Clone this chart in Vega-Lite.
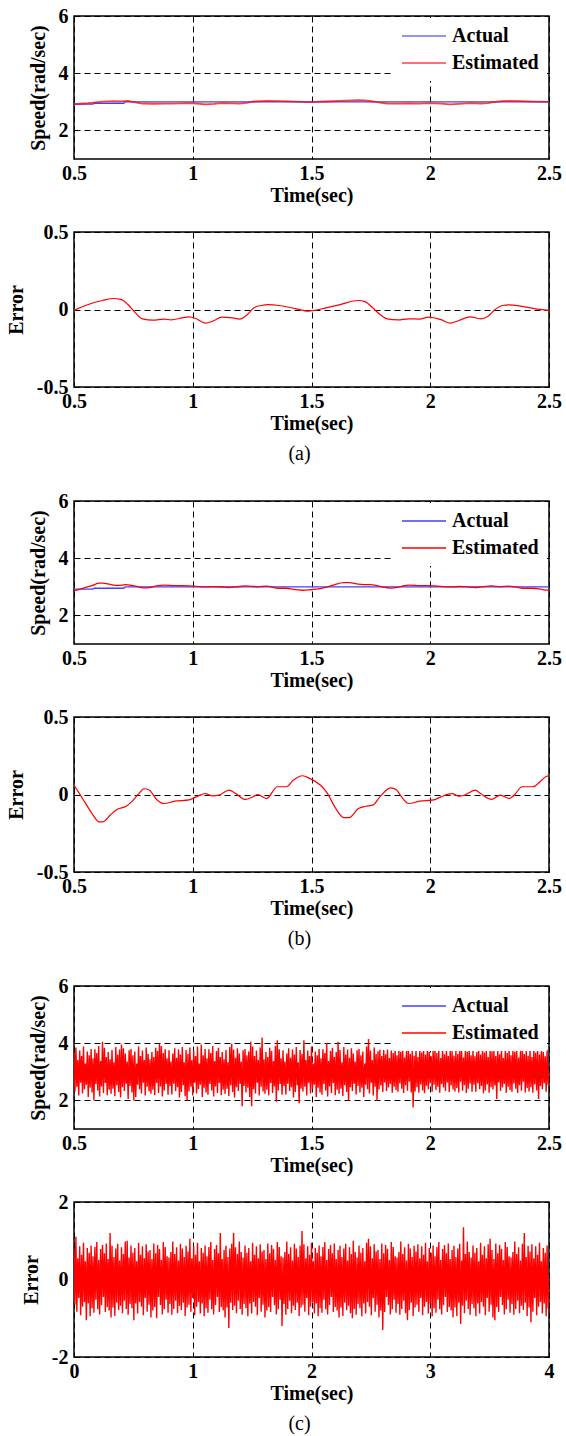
{
  "$schema": "https://vega.github.io/schema/vega-lite/v6.json",
  "description": "Actual vs estimated speed and estimation error, three cases (a), (b), (c)",
  "background": "white",
  "padding": 5,
  "spacing": 15,
  "datasets": {
    "actAB": [{"t":0.5,"v":2.92},{"t":0.58,"v":2.92},{"t":0.585,"v":2.95},{"t":0.71,"v":2.95},{"t":0.715,"v":3.0},{"t":2.5,"v":3.0}],
    "estA": [{"t":0.5,"v":2.914},{"t":0.56,"v":2.952},{"t":0.62,"v":3.008},{"t":0.667,"v":3.021},{"t":0.697,"v":3.015},{"t":0.727,"v":3.032},{"t":0.758,"v":2.98},{"t":0.788,"v":2.94},{"t":0.833,"v":2.931},{"t":0.879,"v":2.938},{"t":0.909,"v":2.933},{"t":0.955,"v":2.946},{"t":0.985,"v":2.953},{"t":1.015,"v":2.94},{"t":1.053,"v":2.912},{"t":1.09,"v":2.929},{"t":1.121,"v":2.951},{"t":1.167,"v":2.946},{"t":1.197,"v":2.938},{"t":1.227,"v":2.963},{"t":1.258,"v":3.011},{"t":1.288,"v":3.026},{"t":1.318,"v":3.032},{"t":1.364,"v":3.026},{"t":1.409,"v":3.013},{"t":1.455,"v":2.998},{"t":1.485,"v":2.989},{"t":1.515,"v":2.994},{"t":1.561,"v":3.011},{"t":1.621,"v":3.032},{"t":1.697,"v":3.058},{"t":1.727,"v":3.049},{"t":1.758,"v":3.011},{"t":1.788,"v":2.968},{"t":1.818,"v":2.94},{"t":1.864,"v":2.933},{"t":1.909,"v":2.94},{"t":1.955,"v":2.938},{"t":1.992,"v":2.951},{"t":2.045,"v":2.935},{"t":2.083,"v":2.912},{"t":2.121,"v":2.929},{"t":2.167,"v":2.953},{"t":2.212,"v":2.94},{"t":2.242,"v":2.955},{"t":2.273,"v":3.0},{"t":2.303,"v":3.026},{"t":2.333,"v":3.03},{"t":2.379,"v":3.022},{"t":2.439,"v":3.006},{"t":2.5,"v":2.994}],
    "errA": [{"t":0.5,"v":-0.006},{"t":0.56,"v":0.032},{"t":0.62,"v":0.058},{"t":0.667,"v":0.071},{"t":0.697,"v":0.065},{"t":0.727,"v":0.032},{"t":0.758,"v":-0.02},{"t":0.788,"v":-0.06},{"t":0.833,"v":-0.069},{"t":0.879,"v":-0.062},{"t":0.909,"v":-0.067},{"t":0.955,"v":-0.054},{"t":0.985,"v":-0.047},{"t":1.015,"v":-0.06},{"t":1.053,"v":-0.088},{"t":1.09,"v":-0.071},{"t":1.121,"v":-0.049},{"t":1.167,"v":-0.054},{"t":1.197,"v":-0.062},{"t":1.227,"v":-0.037},{"t":1.258,"v":0.011},{"t":1.288,"v":0.026},{"t":1.318,"v":0.032},{"t":1.364,"v":0.026},{"t":1.409,"v":0.013},{"t":1.455,"v":-0.002},{"t":1.485,"v":-0.011},{"t":1.515,"v":-0.006},{"t":1.561,"v":0.011},{"t":1.621,"v":0.032},{"t":1.697,"v":0.058},{"t":1.727,"v":0.049},{"t":1.758,"v":0.011},{"t":1.788,"v":-0.032},{"t":1.818,"v":-0.06},{"t":1.864,"v":-0.067},{"t":1.909,"v":-0.06},{"t":1.955,"v":-0.062},{"t":1.992,"v":-0.049},{"t":2.045,"v":-0.065},{"t":2.083,"v":-0.088},{"t":2.121,"v":-0.071},{"t":2.167,"v":-0.047},{"t":2.212,"v":-0.06},{"t":2.242,"v":-0.045},{"t":2.273,"v":0},{"t":2.303,"v":0.026},{"t":2.333,"v":0.03},{"t":2.379,"v":0.022},{"t":2.439,"v":0.006},{"t":2.5,"v":-0.006}],
    "estB": [{"t":0.5,"v":2.86},{"t":0.523,"v":2.914},{"t":0.545,"v":2.968},{"t":0.576,"v":3.043},{"t":0.606,"v":3.127},{"t":0.621,"v":3.127},{"t":0.652,"v":3.084},{"t":0.682,"v":3.045},{"t":0.72,"v":3.076},{"t":0.742,"v":3.048},{"t":0.773,"v":2.994},{"t":0.795,"v":2.963},{"t":0.818,"v":2.972},{"t":0.848,"v":3.032},{"t":0.879,"v":3.058},{"t":0.924,"v":3.043},{"t":0.985,"v":3.035},{"t":1.023,"v":3.009},{"t":1.053,"v":2.994},{"t":1.083,"v":3.009},{"t":1.114,"v":3.002},{"t":1.152,"v":2.972},{"t":1.182,"v":2.994},{"t":1.22,"v":3.032},{"t":1.258,"v":3.011},{"t":1.273,"v":3.0},{"t":1.311,"v":3.026},{"t":1.356,"v":2.95},{"t":1.394,"v":2.95},{"t":1.424,"v":2.907},{"t":1.462,"v":2.879},{"t":1.492,"v":2.896},{"t":1.538,"v":2.94},{"t":1.568,"v":2.994},{"t":1.598,"v":3.08},{"t":1.636,"v":3.149},{"t":1.659,"v":3.149},{"t":1.697,"v":3.091},{"t":1.727,"v":3.076},{"t":1.758,"v":3.069},{"t":1.788,"v":3.015},{"t":1.833,"v":2.957},{"t":1.856,"v":2.968},{"t":1.879,"v":3.015},{"t":1.909,"v":3.058},{"t":1.955,"v":3.043},{"t":2.015,"v":3.035},{"t":2.045,"v":3.015},{"t":2.091,"v":2.994},{"t":2.121,"v":3.011},{"t":2.144,"v":3.004},{"t":2.189,"v":2.972},{"t":2.212,"v":2.994},{"t":2.258,"v":3.032},{"t":2.295,"v":3.004},{"t":2.333,"v":3.026},{"t":2.356,"v":3.0},{"t":2.386,"v":2.95},{"t":2.432,"v":2.95},{"t":2.47,"v":2.907},{"t":2.492,"v":2.881},{"t":2.5,"v":2.881}],
    "errB": [{"t":0.5,"v":0.06},{"t":0.523,"v":0.006},{"t":0.545,"v":-0.048},{"t":0.576,"v":-0.123},{"t":0.606,"v":-0.177},{"t":0.621,"v":-0.177},{"t":0.652,"v":-0.134},{"t":0.682,"v":-0.095},{"t":0.72,"v":-0.076},{"t":0.742,"v":-0.048},{"t":0.773,"v":0.006},{"t":0.795,"v":0.037},{"t":0.818,"v":0.028},{"t":0.848,"v":-0.032},{"t":0.879,"v":-0.058},{"t":0.924,"v":-0.043},{"t":0.985,"v":-0.035},{"t":1.023,"v":-0.009},{"t":1.053,"v":0.006},{"t":1.083,"v":-0.009},{"t":1.114,"v":-0.002},{"t":1.152,"v":0.028},{"t":1.182,"v":0.006},{"t":1.22,"v":-0.032},{"t":1.258,"v":-0.011},{"t":1.273,"v":0},{"t":1.311,"v":-0.026},{"t":1.356,"v":0.05},{"t":1.394,"v":0.05},{"t":1.424,"v":0.093},{"t":1.462,"v":0.121},{"t":1.492,"v":0.104},{"t":1.538,"v":0.06},{"t":1.568,"v":0.006},{"t":1.598,"v":-0.08},{"t":1.636,"v":-0.149},{"t":1.659,"v":-0.149},{"t":1.697,"v":-0.091},{"t":1.727,"v":-0.076},{"t":1.758,"v":-0.069},{"t":1.788,"v":-0.015},{"t":1.833,"v":0.043},{"t":1.856,"v":0.032},{"t":1.879,"v":-0.015},{"t":1.909,"v":-0.058},{"t":1.955,"v":-0.043},{"t":2.015,"v":-0.035},{"t":2.045,"v":-0.015},{"t":2.091,"v":0.006},{"t":2.121,"v":-0.011},{"t":2.144,"v":-0.004},{"t":2.189,"v":0.028},{"t":2.212,"v":0.006},{"t":2.258,"v":-0.032},{"t":2.295,"v":-0.004},{"t":2.333,"v":-0.026},{"t":2.356,"v":0},{"t":2.386,"v":0.05},{"t":2.432,"v":0.05},{"t":2.47,"v":0.093},{"t":2.492,"v":0.119},{"t":2.5,"v":0.119}],
    "actC": [{"t":0.5,"v":3.0},{"t":2.5,"v":3.0}],
    "estC": [
      {"t":0.5,"v":3.62},{"t":0.504,"v":2.31},{"t":0.508,"v":3.85},{"t":0.512,"v":2.48},{"t":0.516,"v":3.41},{"t":0.52,"v":2.17},{"t":0.524,"v":3.74},{"t":0.528,"v":2.62},{"t":0.532,"v":3.55},{"t":0.536,"v":2.24},{"t":0.54,"v":3.88},{"t":0.544,"v":2.39},{"t":0.548,"v":3.29},{"t":0.552,"v":2.55},{"t":0.556,"v":3.71},{"t":0.56,"v":2.12},{"t":0.564,"v":3.58},{"t":0.568,"v":2.44},{"t":0.572,"v":3.8},{"t":0.576,"v":2.28},
      {"t":0.58,"v":3.47},{"t":0.584,"v":2.0},{"t":0.588,"v":3.79},{"t":0.592,"v":2.57},{"t":0.596,"v":3.66},{"t":0.6,"v":2.35},{"t":0.604,"v":3.9},{"t":0.608,"v":2.14},{"t":0.612,"v":3.38},{"t":0.616,"v":2.49},{"t":0.62,"v":4.05},{"t":0.624,"v":2.26},{"t":0.628,"v":3.84},{"t":0.632,"v":2.61},{"t":0.636,"v":3.52},{"t":0.64,"v":2.18},{"t":0.644,"v":3.69},{"t":0.648,"v":2.37},{"t":0.652,"v":3.44},{"t":0.656,"v":2.23},
      {"t":0.66,"v":3.76},{"t":0.664,"v":2.41},{"t":0.668,"v":3.33},{"t":0.672,"v":2.15},{"t":0.676,"v":3.87},{"t":0.68,"v":2.53},{"t":0.684,"v":3.6},{"t":0.688,"v":2.29},{"t":0.692,"v":3.78},{"t":0.696,"v":2.1},{"t":0.7,"v":3.95},{"t":0.704,"v":2.46},{"t":0.708,"v":3.82},{"t":0.712,"v":2.33},{"t":0.716,"v":3.64},{"t":0.72,"v":2.58},{"t":0.724,"v":3.36},{"t":0.728,"v":2.05},{"t":0.732,"v":3.75},{"t":0.736,"v":2.5},
      {"t":0.74,"v":3.8},{"t":0.744,"v":2.28},{"t":0.748,"v":3.58},{"t":0.752,"v":2.0},{"t":0.756,"v":3.71},{"t":0.76,"v":2.12},{"t":0.764,"v":3.29},{"t":0.768,"v":2.55},{"t":0.772,"v":3.88},{"t":0.776,"v":2.39},{"t":0.78,"v":3.55},{"t":0.784,"v":2.24},{"t":0.788,"v":3.74},{"t":0.792,"v":2.62},{"t":0.796,"v":3.41},{"t":0.8,"v":2.17},{"t":0.804,"v":3.85},{"t":0.808,"v":2.48},{"t":0.812,"v":3.62},{"t":0.816,"v":2.31},
      {"t":0.82,"v":3.44},{"t":0.824,"v":2.23},{"t":0.828,"v":3.69},{"t":0.832,"v":2.37},{"t":0.836,"v":3.52},{"t":0.84,"v":2.18},{"t":0.844,"v":3.84},{"t":0.848,"v":2.61},{"t":0.852,"v":3.73},{"t":0.856,"v":2.26},{"t":0.86,"v":3.98},{"t":0.864,"v":2.49},{"t":0.868,"v":3.9},{"t":0.872,"v":2.14},{"t":0.876,"v":3.66},{"t":0.88,"v":2.35},{"t":0.884,"v":3.79},{"t":0.888,"v":2.57},{"t":0.892,"v":3.47},{"t":0.896,"v":2.2},
      {"t":0.9,"v":3.75},{"t":0.904,"v":2.5},{"t":0.908,"v":3.36},{"t":0.912,"v":2.21},{"t":0.916,"v":3.64},{"t":0.92,"v":2.58},{"t":0.924,"v":3.82},{"t":0.928,"v":2.33},{"t":0.932,"v":3.49},{"t":0.936,"v":2.46},{"t":0.94,"v":3.78},{"t":0.944,"v":2.1},{"t":0.948,"v":3.6},{"t":0.952,"v":2.29},{"t":0.956,"v":3.87},{"t":0.96,"v":2.53},{"t":0.964,"v":3.33},{"t":0.968,"v":2.15},{"t":0.972,"v":3.76},{"t":0.976,"v":2.0},
      {"t":0.98,"v":3.62},{"t":0.984,"v":2.31},{"t":0.988,"v":3.85},{"t":0.992,"v":2.48},{"t":0.996,"v":3.41},{"t":1.0,"v":2.17},{"t":1.004,"v":3.74},{"t":1.008,"v":2.62},{"t":1.012,"v":3.55},{"t":1.016,"v":2.24},{"t":1.02,"v":3.88},{"t":1.024,"v":2.39},{"t":1.028,"v":3.29},{"t":1.032,"v":2.55},{"t":1.036,"v":3.95},{"t":1.04,"v":2.12},{"t":1.044,"v":3.58},{"t":1.048,"v":2.44},{"t":1.052,"v":3.8},{"t":1.056,"v":2.28},
      {"t":1.06,"v":3.47},{"t":1.064,"v":2.2},{"t":1.068,"v":3.79},{"t":1.072,"v":2.57},{"t":1.076,"v":3.66},{"t":1.08,"v":2.35},{"t":1.084,"v":3.9},{"t":1.088,"v":2.14},{"t":1.092,"v":3.38},{"t":1.096,"v":2.49},{"t":1.1,"v":3.73},{"t":1.104,"v":2.26},{"t":1.108,"v":3.84},{"t":1.112,"v":2.61},{"t":1.116,"v":3.52},{"t":1.12,"v":2.18},{"t":1.124,"v":3.69},{"t":1.128,"v":2.37},{"t":1.132,"v":3.44},{"t":1.136,"v":2.23},
      {"t":1.14,"v":3.76},{"t":1.144,"v":2.41},{"t":1.148,"v":3.33},{"t":1.152,"v":2.15},{"t":1.156,"v":3.87},{"t":1.16,"v":2.53},{"t":1.164,"v":3.98},{"t":1.168,"v":2.29},{"t":1.172,"v":3.78},{"t":1.176,"v":2.1},{"t":1.18,"v":3.49},{"t":1.184,"v":2.46},{"t":1.188,"v":3.82},{"t":1.192,"v":2.33},{"t":1.196,"v":3.64},{"t":1.2,"v":2.58},{"t":1.204,"v":3.36},{"t":1.208,"v":1.8},{"t":1.212,"v":3.75},{"t":1.216,"v":2.5},
      {"t":1.22,"v":3.8},{"t":1.224,"v":2.28},{"t":1.228,"v":3.58},{"t":1.232,"v":2.44},{"t":1.236,"v":3.71},{"t":1.24,"v":2.12},{"t":1.244,"v":4.05},{"t":1.248,"v":1.8},{"t":1.252,"v":3.88},{"t":1.256,"v":2.39},{"t":1.26,"v":3.55},{"t":1.264,"v":2.24},{"t":1.268,"v":3.74},{"t":1.272,"v":2.62},{"t":1.276,"v":3.41},{"t":1.28,"v":2.17},{"t":1.284,"v":3.85},{"t":1.288,"v":2.48},{"t":1.292,"v":4.2},{"t":1.296,"v":2.31},
      {"t":1.3,"v":3.44},{"t":1.304,"v":2.23},{"t":1.308,"v":3.69},{"t":1.312,"v":2.37},{"t":1.316,"v":3.52},{"t":1.32,"v":2.18},{"t":1.324,"v":3.84},{"t":1.328,"v":2.61},{"t":1.332,"v":3.73},{"t":1.336,"v":2.26},{"t":1.34,"v":3.38},{"t":1.344,"v":2.49},{"t":1.348,"v":3.9},{"t":1.352,"v":1.95},{"t":1.356,"v":4.1},{"t":1.36,"v":2.35},{"t":1.364,"v":3.79},{"t":1.368,"v":2.57},{"t":1.372,"v":3.47},{"t":1.376,"v":2.2},
      {"t":1.38,"v":3.75},{"t":1.384,"v":2.5},{"t":1.388,"v":3.36},{"t":1.392,"v":2.21},{"t":1.396,"v":3.64},{"t":1.4,"v":2.58},{"t":1.404,"v":3.82},{"t":1.408,"v":2.33},{"t":1.412,"v":3.49},{"t":1.416,"v":2.46},{"t":1.42,"v":3.78},{"t":1.424,"v":2.1},{"t":1.428,"v":3.6},{"t":1.432,"v":2.29},{"t":1.436,"v":3.87},{"t":1.44,"v":2.53},{"t":1.444,"v":3.33},{"t":1.448,"v":1.9},{"t":1.452,"v":3.76},{"t":1.456,"v":2.41},
      {"t":1.46,"v":3.62},{"t":1.464,"v":2.31},{"t":1.468,"v":4.1},{"t":1.472,"v":2.48},{"t":1.476,"v":3.41},{"t":1.48,"v":2.17},{"t":1.484,"v":3.74},{"t":1.488,"v":2.62},{"t":1.492,"v":3.55},{"t":1.496,"v":2.24},{"t":1.5,"v":3.88},{"t":1.504,"v":2.39},{"t":1.508,"v":3.29},{"t":1.512,"v":2.55},{"t":1.516,"v":3.71},{"t":1.52,"v":2.12},{"t":1.524,"v":3.58},{"t":1.528,"v":2.44},{"t":1.532,"v":3.8},{"t":1.536,"v":2.28},
      {"t":1.54,"v":3.47},{"t":1.544,"v":2.2},{"t":1.548,"v":3.79},{"t":1.552,"v":2.57},{"t":1.556,"v":3.66},{"t":1.56,"v":2.35},{"t":1.564,"v":4.0},{"t":1.568,"v":2.14},{"t":1.572,"v":3.38},{"t":1.576,"v":2.49},{"t":1.58,"v":3.73},{"t":1.584,"v":2.26},{"t":1.588,"v":3.84},{"t":1.592,"v":2.61},{"t":1.596,"v":3.52},{"t":1.6,"v":2.18},{"t":1.604,"v":3.69},{"t":1.608,"v":2.37},{"t":1.612,"v":4.05},{"t":1.616,"v":2.23},
      {"t":1.62,"v":3.76},{"t":1.624,"v":2.41},{"t":1.628,"v":3.33},{"t":1.632,"v":2.15},{"t":1.636,"v":3.87},{"t":1.64,"v":2.53},{"t":1.644,"v":3.6},{"t":1.648,"v":2.29},{"t":1.652,"v":3.78},{"t":1.656,"v":2.0},{"t":1.66,"v":3.49},{"t":1.664,"v":2.46},{"t":1.668,"v":3.82},{"t":1.672,"v":2.33},{"t":1.676,"v":3.64},{"t":1.68,"v":2.58},{"t":1.684,"v":3.36},{"t":1.688,"v":2.21},{"t":1.692,"v":3.75},{"t":1.696,"v":2.5},
      {"t":1.7,"v":3.8},{"t":1.704,"v":2.28},{"t":1.708,"v":3.58},{"t":1.712,"v":2.44},{"t":1.716,"v":3.71},{"t":1.72,"v":2.12},{"t":1.724,"v":3.29},{"t":1.728,"v":2.55},{"t":1.732,"v":3.88},{"t":1.736,"v":2.39},{"t":1.74,"v":4.15},{"t":1.744,"v":2.24},{"t":1.748,"v":3.74},{"t":1.752,"v":2.62},{"t":1.756,"v":3.41},{"t":1.76,"v":2.17},{"t":1.764,"v":3.85},{"t":1.768,"v":2.48},{"t":1.772,"v":3.62},{"t":1.776,"v":2.0},
      {"t":1.78,"v":3.72},{"t":1.784,"v":2.38},{"t":1.788,"v":3.77},{"t":1.792,"v":2.52},{"t":1.796,"v":3.55},{"t":1.8,"v":2.29},{"t":1.804,"v":3.76},{"t":1.808,"v":2.63},{"t":1.812,"v":3.61},{"t":1.816,"v":2.33},{"t":1.82,"v":3.78},{"t":1.824,"v":2.45},{"t":1.828,"v":3.48},{"t":1.832,"v":2.57},{"t":1.836,"v":3.74},{"t":1.84,"v":2.27},{"t":1.844,"v":3.66},{"t":1.848,"v":2.48},{"t":1.852,"v":3.77},{"t":1.856,"v":2.36},
      {"t":1.86,"v":3.58},{"t":1.864,"v":2.3},{"t":1.868,"v":3.76},{"t":1.872,"v":2.59},{"t":1.876,"v":3.7},{"t":1.88,"v":2.41},{"t":1.884,"v":3.78},{"t":1.888,"v":2.26},{"t":1.892,"v":3.5},{"t":1.896,"v":2.53},{"t":1.9,"v":3.75},{"t":1.904,"v":2.34},{"t":1.908,"v":3.77},{"t":1.912,"v":2.65},{"t":1.916,"v":3.62},{"t":1.92,"v":2.28},{"t":1.924,"v":3.73},{"t":1.928,"v":1.75},{"t":1.932,"v":3.56},{"t":1.936,"v":2.31},
      {"t":1.94,"v":3.77},{"t":1.944,"v":2.46},{"t":1.948,"v":3.52},{"t":1.952,"v":2.27},{"t":1.956,"v":3.78},{"t":1.96,"v":2.56},{"t":1.964,"v":3.67},{"t":1.968,"v":2.35},{"t":1.972,"v":3.76},{"t":1.976,"v":2.25},{"t":1.98,"v":3.6},{"t":1.984,"v":2.5},{"t":1.988,"v":3.77},{"t":1.992,"v":2.39},{"t":1.996,"v":3.69},{"t":2.0,"v":2.6},{"t":2.004,"v":3.54},{"t":2.008,"v":2.3},{"t":2.012,"v":3.76},{"t":2.016,"v":2.55},
      {"t":2.02,"v":3.77},{"t":2.024,"v":2.36},{"t":2.028,"v":3.66},{"t":2.032,"v":2.48},{"t":2.036,"v":3.74},{"t":2.04,"v":2.27},{"t":2.044,"v":3.48},{"t":2.048,"v":2.57},{"t":2.052,"v":3.78},{"t":2.056,"v":2.45},{"t":2.06,"v":3.61},{"t":2.064,"v":2.33},{"t":2.068,"v":3.76},{"t":2.072,"v":2.63},{"t":2.076,"v":3.55},{"t":2.08,"v":2.29},{"t":2.084,"v":3.77},{"t":2.088,"v":2.52},{"t":2.092,"v":3.72},{"t":2.096,"v":2.38},
      {"t":2.1,"v":3.56},{"t":2.104,"v":2.31},{"t":2.108,"v":3.73},{"t":2.112,"v":2.43},{"t":2.116,"v":3.62},{"t":2.12,"v":2.28},{"t":2.124,"v":3.77},{"t":2.128,"v":2.65},{"t":2.132,"v":3.75},{"t":2.136,"v":2.34},{"t":2.14,"v":3.5},{"t":2.144,"v":2.53},{"t":2.148,"v":3.78},{"t":2.152,"v":2.26},{"t":2.156,"v":3.7},{"t":2.16,"v":2.41},{"t":2.164,"v":3.76},{"t":2.168,"v":2.59},{"t":2.172,"v":3.58},{"t":2.176,"v":2.3},
      {"t":2.18,"v":3.76},{"t":2.184,"v":2.55},{"t":2.188,"v":3.54},{"t":2.192,"v":2.3},{"t":2.196,"v":3.69},{"t":2.2,"v":2.6},{"t":2.204,"v":3.77},{"t":2.208,"v":2.39},{"t":2.212,"v":3.6},{"t":2.216,"v":2.5},{"t":2.22,"v":3.76},{"t":2.224,"v":2.25},{"t":2.228,"v":3.67},{"t":2.232,"v":2.35},{"t":2.236,"v":3.78},{"t":2.24,"v":2.56},{"t":2.244,"v":3.52},{"t":2.248,"v":2.27},{"t":2.252,"v":3.77},{"t":2.256,"v":2.46},
      {"t":2.26,"v":3.72},{"t":2.264,"v":2.38},{"t":2.268,"v":3.77},{"t":2.272,"v":2.52},{"t":2.276,"v":3.55},{"t":2.28,"v":2.05},{"t":2.284,"v":3.76},{"t":2.288,"v":2.63},{"t":2.292,"v":3.61},{"t":2.296,"v":2.33},{"t":2.3,"v":3.78},{"t":2.304,"v":2.45},{"t":2.308,"v":3.48},{"t":2.312,"v":2.57},{"t":2.316,"v":3.74},{"t":2.32,"v":2.27},{"t":2.324,"v":3.66},{"t":2.328,"v":2.48},{"t":2.332,"v":3.77},{"t":2.336,"v":2.36},
      {"t":2.34,"v":3.58},{"t":2.344,"v":2.3},{"t":2.348,"v":3.76},{"t":2.352,"v":2.59},{"t":2.356,"v":3.7},{"t":2.36,"v":2.41},{"t":2.364,"v":3.78},{"t":2.368,"v":2.26},{"t":2.372,"v":3.5},{"t":2.376,"v":2.53},{"t":2.38,"v":3.75},{"t":2.384,"v":2.34},{"t":2.388,"v":3.77},{"t":2.392,"v":2.65},{"t":2.396,"v":3.62},{"t":2.4,"v":2.28},{"t":2.404,"v":3.73},{"t":2.408,"v":2.43},{"t":2.412,"v":3.56},{"t":2.416,"v":2.31},
      {"t":2.42,"v":3.77},{"t":2.424,"v":2.46},{"t":2.428,"v":3.52},{"t":2.432,"v":2.27},{"t":2.436,"v":3.78},{"t":2.44,"v":2.56},{"t":2.444,"v":3.67},{"t":2.448,"v":2.35},{"t":2.452,"v":3.76},{"t":2.456,"v":2.05},{"t":2.46,"v":3.6},{"t":2.464,"v":2.5},{"t":2.468,"v":3.77},{"t":2.472,"v":2.39},{"t":2.476,"v":3.69},{"t":2.48,"v":2.6},{"t":2.484,"v":3.54},{"t":2.488,"v":2.3},{"t":2.492,"v":3.76},{"t":2.496,"v":2.55},
      {"t":2.5,"v":3.1}
    ],
    "errC": [
      {"t":0.0,"v":0.72},{"t":0.008,"v":-0.65},{"t":0.016,"v":1.1},{"t":0.024,"v":-0.83},{"t":0.032,"v":0.55},{"t":0.04,"v":-0.48},{"t":0.048,"v":0.86},{"t":0.056,"v":-0.92},{"t":0.064,"v":0.64},{"t":0.072,"v":-0.7},{"t":0.08,"v":0.95},{"t":0.088,"v":-0.58},{"t":0.096,"v":0.47},{"t":0.104,"v":-1.05},{"t":0.112,"v":0.81},{"t":0.12,"v":-0.62},{"t":0.128,"v":0.69},{"t":0.136,"v":-0.95},{"t":0.144,"v":0.88},{"t":0.152,"v":-0.74},
      {"t":0.16,"v":0.6},{"t":0.168,"v":-0.86},{"t":0.176,"v":0.84},{"t":0.184,"v":-0.52},{"t":0.192,"v":0.97},{"t":0.2,"v":-0.77},{"t":0.208,"v":0.5},{"t":0.216,"v":-0.9},{"t":0.224,"v":0.79},{"t":0.232,"v":-0.66},{"t":0.24,"v":0.89},{"t":0.248,"v":-0.45},{"t":0.256,"v":0.68},{"t":0.264,"v":-0.84},{"t":0.272,"v":0.93},{"t":0.28,"v":-0.71},{"t":0.288,"v":0.53},{"t":0.296,"v":-0.8},{"t":0.304,"v":1.2},{"t":0.312,"v":-0.98},
      {"t":0.32,"v":0.87},{"t":0.328,"v":-0.72},{"t":0.336,"v":0.58},{"t":0.344,"v":-0.94},{"t":0.352,"v":0.8},{"t":0.36,"v":-0.6},{"t":0.368,"v":0.92},{"t":0.376,"v":-0.79},{"t":0.384,"v":0.49},{"t":0.392,"v":-0.68},{"t":0.4,"v":0.83},{"t":0.408,"v":-0.87},{"t":0.416,"v":0.66},{"t":0.424,"v":-0.55},{"t":0.432,"v":0.98},{"t":0.44,"v":-0.76},{"t":0.448,"v":1.0},{"t":0.456,"v":-0.91},{"t":0.464,"v":0.57},{"t":0.472,"v":-0.63},
      {"t":0.48,"v":0.88},{"t":0.488,"v":-0.74},{"t":0.496,"v":0.69},{"t":0.504,"v":-1.05},{"t":0.512,"v":0.81},{"t":0.52,"v":-0.62},{"t":0.528,"v":0.47},{"t":0.536,"v":-0.88},{"t":0.544,"v":0.95},{"t":0.552,"v":-0.58},{"t":0.56,"v":0.64},{"t":0.568,"v":-0.7},{"t":0.576,"v":0.86},{"t":0.584,"v":-0.92},{"t":0.592,"v":0.55},{"t":0.6,"v":-0.48},{"t":0.608,"v":0.91},{"t":0.616,"v":-0.83},{"t":0.624,"v":0.72},{"t":0.632,"v":-0.65},
      {"t":0.64,"v":0.76},{"t":0.648,"v":-0.98},{"t":0.656,"v":0.53},{"t":0.664,"v":-0.8},{"t":0.672,"v":0.93},{"t":0.68,"v":-0.71},{"t":0.688,"v":0.68},{"t":0.696,"v":-1.0},{"t":0.704,"v":0.89},{"t":0.712,"v":-0.45},{"t":0.72,"v":0.79},{"t":0.728,"v":-0.66},{"t":0.736,"v":0.5},{"t":0.744,"v":-0.9},{"t":0.752,"v":0.97},{"t":0.76,"v":-0.77},{"t":0.768,"v":0.84},{"t":0.776,"v":-0.52},{"t":0.784,"v":0.6},{"t":0.792,"v":-0.86},
      {"t":0.8,"v":0.57},{"t":0.808,"v":-0.63},{"t":0.816,"v":0.71},{"t":0.824,"v":-0.91},{"t":0.832,"v":0.98},{"t":0.84,"v":-0.76},{"t":0.848,"v":0.66},{"t":0.856,"v":-0.55},{"t":0.864,"v":0.83},{"t":0.872,"v":-0.87},{"t":0.88,"v":0.49},{"t":0.888,"v":-0.68},{"t":0.896,"v":0.92},{"t":0.904,"v":-0.79},{"t":0.912,"v":0.8},{"t":0.92,"v":-0.6},{"t":0.928,"v":0.58},{"t":0.936,"v":-0.94},{"t":0.944,"v":0.87},{"t":0.952,"v":-0.72},
      {"t":0.96,"v":0.72},{"t":0.968,"v":-0.65},{"t":0.976,"v":1.05},{"t":0.984,"v":-0.83},{"t":0.992,"v":0.55},{"t":1.0,"v":-0.48},{"t":1.008,"v":0.86},{"t":1.016,"v":-0.92},{"t":1.024,"v":0.64},{"t":1.032,"v":-0.7},{"t":1.04,"v":0.95},{"t":1.048,"v":-0.58},{"t":1.056,"v":0.47},{"t":1.064,"v":-0.88},{"t":1.072,"v":0.81},{"t":1.08,"v":-0.62},{"t":1.088,"v":0.69},{"t":1.096,"v":-0.95},{"t":1.104,"v":0.88},{"t":1.112,"v":-0.74},
      {"t":1.12,"v":0.6},{"t":1.128,"v":-0.86},{"t":1.136,"v":0.84},{"t":1.144,"v":-0.52},{"t":1.152,"v":0.97},{"t":1.16,"v":-0.77},{"t":1.168,"v":0.5},{"t":1.176,"v":-0.9},{"t":1.184,"v":0.79},{"t":1.192,"v":-0.66},{"t":1.2,"v":0.89},{"t":1.208,"v":-0.45},{"t":1.216,"v":0.68},{"t":1.224,"v":-0.84},{"t":1.232,"v":1.2},{"t":1.24,"v":-0.71},{"t":1.248,"v":0.53},{"t":1.256,"v":-0.8},{"t":1.264,"v":0.76},{"t":1.272,"v":-0.98},
      {"t":1.28,"v":0.87},{"t":1.288,"v":-0.72},{"t":1.296,"v":0.58},{"t":1.304,"v":-1.25},{"t":1.312,"v":0.8},{"t":1.32,"v":-0.6},{"t":1.328,"v":0.92},{"t":1.336,"v":-0.79},{"t":1.344,"v":1.2},{"t":1.352,"v":-0.68},{"t":1.36,"v":0.83},{"t":1.368,"v":-0.87},{"t":1.376,"v":0.66},{"t":1.384,"v":-0.55},{"t":1.392,"v":0.98},{"t":1.4,"v":-0.76},{"t":1.408,"v":0.71},{"t":1.416,"v":-0.91},{"t":1.424,"v":0.57},{"t":1.432,"v":-0.63},
      {"t":1.44,"v":0.88},{"t":1.448,"v":-0.74},{"t":1.456,"v":0.69},{"t":1.464,"v":-0.95},{"t":1.472,"v":0.81},{"t":1.48,"v":-0.62},{"t":1.488,"v":0.47},{"t":1.496,"v":-0.88},{"t":1.504,"v":0.95},{"t":1.512,"v":-0.58},{"t":1.52,"v":0.64},{"t":1.528,"v":-0.7},{"t":1.536,"v":0.86},{"t":1.544,"v":-0.92},{"t":1.552,"v":0.55},{"t":1.56,"v":-0.48},{"t":1.568,"v":0.91},{"t":1.576,"v":-0.83},{"t":1.584,"v":0.72},{"t":1.592,"v":-0.65},
      {"t":1.6,"v":0.76},{"t":1.608,"v":-0.98},{"t":1.616,"v":0.53},{"t":1.624,"v":-0.8},{"t":1.632,"v":0.93},{"t":1.64,"v":-0.71},{"t":1.648,"v":0.68},{"t":1.656,"v":-0.84},{"t":1.664,"v":0.89},{"t":1.672,"v":-0.45},{"t":1.68,"v":0.79},{"t":1.688,"v":-0.66},{"t":1.696,"v":0.5},{"t":1.704,"v":-0.9},{"t":1.712,"v":0.97},{"t":1.72,"v":-0.77},{"t":1.728,"v":0.84},{"t":1.736,"v":-0.52},{"t":1.744,"v":0.6},{"t":1.752,"v":-1.2},
      {"t":1.76,"v":0.57},{"t":1.768,"v":-0.63},{"t":1.776,"v":0.71},{"t":1.784,"v":-0.91},{"t":1.792,"v":0.98},{"t":1.8,"v":-0.76},{"t":1.808,"v":0.66},{"t":1.816,"v":-0.55},{"t":1.824,"v":0.83},{"t":1.832,"v":-0.87},{"t":1.84,"v":0.49},{"t":1.848,"v":-0.68},{"t":1.856,"v":0.92},{"t":1.864,"v":-0.79},{"t":1.872,"v":0.8},{"t":1.88,"v":-0.6},{"t":1.888,"v":0.58},{"t":1.896,"v":-0.94},{"t":1.904,"v":0.87},{"t":1.912,"v":-0.72},
      {"t":1.92,"v":1.25},{"t":1.928,"v":-0.65},{"t":1.936,"v":0.91},{"t":1.944,"v":-0.83},{"t":1.952,"v":0.55},{"t":1.96,"v":-0.48},{"t":1.968,"v":0.86},{"t":1.976,"v":-0.92},{"t":1.984,"v":0.64},{"t":1.992,"v":-0.7},{"t":2.0,"v":0.95},{"t":2.008,"v":-0.58},{"t":2.016,"v":0.47},{"t":2.024,"v":-0.88},{"t":2.032,"v":0.81},{"t":2.04,"v":-0.62},{"t":2.048,"v":0.69},{"t":2.056,"v":-0.95},{"t":2.064,"v":0.88},{"t":2.072,"v":-0.74},
      {"t":2.08,"v":0.6},{"t":2.088,"v":-0.86},{"t":2.096,"v":0.84},{"t":2.104,"v":-0.52},{"t":2.112,"v":0.97},{"t":2.12,"v":-0.77},{"t":2.128,"v":0.5},{"t":2.136,"v":-0.9},{"t":2.144,"v":0.79},{"t":2.152,"v":-0.66},{"t":2.16,"v":0.89},{"t":2.168,"v":-0.45},{"t":2.176,"v":0.68},{"t":2.184,"v":-0.84},{"t":2.192,"v":0.93},{"t":2.2,"v":-0.71},{"t":2.208,"v":0.53},{"t":2.216,"v":-0.8},{"t":2.224,"v":0.76},{"t":2.232,"v":-0.98},
      {"t":2.24,"v":0.87},{"t":2.248,"v":-0.72},{"t":2.256,"v":0.58},{"t":2.264,"v":-0.94},{"t":2.272,"v":0.8},{"t":2.28,"v":-0.6},{"t":2.288,"v":0.92},{"t":2.296,"v":-0.79},{"t":2.304,"v":0.49},{"t":2.312,"v":-0.68},{"t":2.32,"v":0.83},{"t":2.328,"v":-0.87},{"t":2.336,"v":0.66},{"t":2.344,"v":-1.0},{"t":2.352,"v":1.0},{"t":2.36,"v":-0.76},{"t":2.368,"v":0.71},{"t":2.376,"v":-0.91},{"t":2.384,"v":0.57},{"t":2.392,"v":-0.63},
      {"t":2.4,"v":0.88},{"t":2.408,"v":-0.74},{"t":2.416,"v":0.69},{"t":2.424,"v":-0.95},{"t":2.432,"v":0.81},{"t":2.44,"v":-0.62},{"t":2.448,"v":0.47},{"t":2.456,"v":-0.88},{"t":2.464,"v":0.95},{"t":2.472,"v":-0.58},{"t":2.48,"v":1.05},{"t":2.488,"v":-0.7},{"t":2.496,"v":0.86},{"t":2.504,"v":-0.92},{"t":2.512,"v":0.55},{"t":2.52,"v":-0.48},{"t":2.528,"v":0.91},{"t":2.536,"v":-0.83},{"t":2.544,"v":0.72},{"t":2.552,"v":-0.65},
      {"t":2.56,"v":0.76},{"t":2.568,"v":-0.98},{"t":2.576,"v":0.53},{"t":2.584,"v":-0.8},{"t":2.592,"v":0.93},{"t":2.6,"v":-1.3},{"t":2.608,"v":0.68},{"t":2.616,"v":-0.84},{"t":2.624,"v":0.89},{"t":2.632,"v":-0.45},{"t":2.64,"v":0.79},{"t":2.648,"v":-0.66},{"t":2.656,"v":0.5},{"t":2.664,"v":-0.9},{"t":2.672,"v":0.97},{"t":2.68,"v":-0.77},{"t":2.688,"v":0.84},{"t":2.696,"v":-0.52},{"t":2.704,"v":0.6},{"t":2.712,"v":-0.86},
      {"t":2.72,"v":0.57},{"t":2.728,"v":-0.63},{"t":2.736,"v":0.71},{"t":2.744,"v":-0.91},{"t":2.752,"v":0.98},{"t":2.76,"v":-0.76},{"t":2.768,"v":0.66},{"t":2.776,"v":-0.55},{"t":2.784,"v":0.83},{"t":2.792,"v":-0.87},{"t":2.8,"v":0.49},{"t":2.808,"v":-1.05},{"t":2.816,"v":0.92},{"t":2.824,"v":-0.79},{"t":2.832,"v":0.8},{"t":2.84,"v":-0.6},{"t":2.848,"v":0.58},{"t":2.856,"v":-0.94},{"t":2.864,"v":0.87},{"t":2.872,"v":-0.72},
      {"t":2.88,"v":0.72},{"t":2.888,"v":-0.65},{"t":2.896,"v":0.91},{"t":2.904,"v":-0.83},{"t":2.912,"v":0.55},{"t":2.92,"v":-0.48},{"t":2.928,"v":0.86},{"t":2.936,"v":-0.92},{"t":2.944,"v":0.64},{"t":2.952,"v":-0.7},{"t":2.96,"v":0.95},{"t":2.968,"v":-0.58},{"t":2.976,"v":0.47},{"t":2.984,"v":-0.88},{"t":2.992,"v":0.81},{"t":3.0,"v":-0.62},{"t":3.008,"v":0.69},{"t":3.016,"v":-0.95},{"t":3.024,"v":0.88},{"t":3.032,"v":-0.74},
      {"t":3.04,"v":0.6},{"t":3.048,"v":-0.86},{"t":3.056,"v":0.84},{"t":3.064,"v":-0.52},{"t":3.072,"v":0.97},{"t":3.08,"v":-0.77},{"t":3.088,"v":0.5},{"t":3.096,"v":-0.9},{"t":3.104,"v":0.79},{"t":3.112,"v":-0.66},{"t":3.12,"v":0.89},{"t":3.128,"v":-0.45},{"t":3.136,"v":0.68},{"t":3.144,"v":-0.84},{"t":3.152,"v":0.93},{"t":3.16,"v":-0.71},{"t":3.168,"v":0.53},{"t":3.176,"v":-0.8},{"t":3.184,"v":0.76},{"t":3.192,"v":-0.98},
      {"t":3.2,"v":0.87},{"t":3.208,"v":-0.72},{"t":3.216,"v":0.58},{"t":3.224,"v":-0.94},{"t":3.232,"v":0.8},{"t":3.24,"v":-0.6},{"t":3.248,"v":0.92},{"t":3.256,"v":-1.15},{"t":3.264,"v":0.49},{"t":3.272,"v":-0.68},{"t":3.28,"v":1.35},{"t":3.288,"v":-0.87},{"t":3.296,"v":0.66},{"t":3.304,"v":-0.55},{"t":3.312,"v":0.98},{"t":3.32,"v":-0.76},{"t":3.328,"v":0.71},{"t":3.336,"v":-0.91},{"t":3.344,"v":0.57},{"t":3.352,"v":-0.63},
      {"t":3.36,"v":0.88},{"t":3.368,"v":-0.74},{"t":3.376,"v":0.69},{"t":3.384,"v":-0.95},{"t":3.392,"v":0.81},{"t":3.4,"v":-0.62},{"t":3.408,"v":0.47},{"t":3.416,"v":-0.88},{"t":3.424,"v":0.95},{"t":3.432,"v":-0.58},{"t":3.44,"v":0.64},{"t":3.448,"v":-0.7},{"t":3.456,"v":0.86},{"t":3.464,"v":-0.92},{"t":3.472,"v":0.55},{"t":3.48,"v":-0.48},{"t":3.488,"v":0.91},{"t":3.496,"v":-0.83},{"t":3.504,"v":1.05},{"t":3.512,"v":-0.65},
      {"t":3.52,"v":0.76},{"t":3.528,"v":-0.98},{"t":3.536,"v":0.53},{"t":3.544,"v":-1.05},{"t":3.552,"v":0.93},{"t":3.56,"v":-0.71},{"t":3.568,"v":0.68},{"t":3.576,"v":-0.84},{"t":3.584,"v":0.89},{"t":3.592,"v":-0.45},{"t":3.6,"v":0.79},{"t":3.608,"v":-0.66},{"t":3.616,"v":0.5},{"t":3.624,"v":-0.9},{"t":3.632,"v":0.97},{"t":3.64,"v":-0.77},{"t":3.648,"v":0.84},{"t":3.656,"v":-0.52},{"t":3.664,"v":0.6},{"t":3.672,"v":-0.86},
      {"t":3.68,"v":0.57},{"t":3.688,"v":-0.63},{"t":3.696,"v":0.71},{"t":3.704,"v":-0.91},{"t":3.712,"v":0.98},{"t":3.72,"v":-0.76},{"t":3.728,"v":0.66},{"t":3.736,"v":-0.55},{"t":3.744,"v":0.83},{"t":3.752,"v":-0.87},{"t":3.76,"v":0.49},{"t":3.768,"v":-0.68},{"t":3.776,"v":0.92},{"t":3.784,"v":-0.79},{"t":3.792,"v":1.2},{"t":3.8,"v":-0.6},{"t":3.808,"v":0.58},{"t":3.816,"v":-0.94},{"t":3.824,"v":0.87},{"t":3.832,"v":-0.72},
      {"t":3.84,"v":0.72},{"t":3.848,"v":-1.1},{"t":3.856,"v":0.91},{"t":3.864,"v":-0.83},{"t":3.872,"v":0.55},{"t":3.88,"v":-0.48},{"t":3.888,"v":0.86},{"t":3.896,"v":-0.92},{"t":3.904,"v":0.64},{"t":3.912,"v":-0.7},{"t":3.92,"v":0.95},{"t":3.928,"v":-0.58},{"t":3.936,"v":0.47},{"t":3.944,"v":-0.88},{"t":3.952,"v":0.81},{"t":3.96,"v":-0.62},{"t":3.968,"v":0.69},{"t":3.976,"v":-0.95},{"t":3.984,"v":0.88},{"t":3.992,"v":-0.74},
      {"t":4.0,"v":0.1}
    ]
  },
  "vconcat": [
    {
      "width": 475,
      "height": 143,
      "layer": [
        {
          "data": {"name": "actAB"},
          "mark": {"type": "line", "strokeWidth": 1.3, "clip": true},
          "encoding": {
            "x": {"field": "t", "type": "quantitative", "scale": {"domain": [0.5, 2.5], "nice": false, "zero": false}, "axis": {"values": [0.5, 1, 1.5, 2, 2.5], "labelExpr": "'' + datum.value", "title": "Time(sec)"}},
            "y": {"field": "v", "type": "quantitative", "scale": {"domain": [1, 6], "nice": false, "zero": false}, "axis": {"values": [2, 4, 6], "labelExpr": "'' + datum.value", "title": "Speed(rad/sec)"}},
            "color": {"datum": "Actual", "type": "nominal", "scale": {"domain": ["Actual", "Estimated"], "range": ["#4040ff", "#ff0000"]}, "legend": {"title": null, "symbolType": "M-4,0H4"}}
          }
        },
        {
          "data": {"name": "estA"},
          "mark": {"type": "line", "strokeWidth": 1.8, "opacity": 0.75, "clip": true},
          "encoding": {
            "x": {"field": "t", "type": "quantitative"},
            "y": {"field": "v", "type": "quantitative"},
            "color": {"datum": "Estimated", "type": "nominal"}
          }
        }
      ]
    },
    {
      "width": 475,
      "height": 155,
      "title": {"text": "(a)", "subtitle": " ", "subtitlePadding": 2, "subtitleFontSize": 8},
      "data": {"name": "errA"},
      "mark": {"type": "line", "color": "#ff0000", "strokeWidth": 1.2, "interpolate": "monotone", "clip": true},
      "encoding": {
        "x": {"field": "t", "type": "quantitative", "scale": {"domain": [0.5, 2.5], "nice": false, "zero": false}, "axis": {"values": [0.5, 1, 1.5, 2, 2.5], "labelExpr": "'' + datum.value", "title": "Time(sec)"}},
        "y": {"field": "v", "type": "quantitative", "scale": {"domain": [-0.5, 0.5], "nice": false, "zero": false}, "axis": {"values": [-0.5, 0, 0.5], "labelExpr": "'' + datum.value", "title": "Error"}}
      }
    },
    {
      "width": 475,
      "height": 143,
      "layer": [
        {
          "data": {"name": "actAB"},
          "mark": {"type": "line", "strokeWidth": 1.3, "clip": true},
          "encoding": {
            "x": {"field": "t", "type": "quantitative", "scale": {"domain": [0.5, 2.5], "nice": false, "zero": false}, "axis": {"values": [0.5, 1, 1.5, 2, 2.5], "labelExpr": "'' + datum.value", "title": "Time(sec)"}},
            "y": {"field": "v", "type": "quantitative", "scale": {"domain": [1, 6], "nice": false, "zero": false}, "axis": {"values": [2, 4, 6], "labelExpr": "'' + datum.value", "title": "Speed(rad/sec)"}},
            "color": {"datum": "Actual", "type": "nominal", "scale": {"domain": ["Actual", "Estimated"], "range": ["#4040ff", "#ff0000"]}, "legend": {"title": null, "symbolType": "M-4,0H4"}}
          }
        },
        {
          "data": {"name": "estB"},
          "mark": {"type": "line", "strokeWidth": 1.3, "interpolate": "monotone", "clip": true},
          "encoding": {
            "x": {"field": "t", "type": "quantitative"},
            "y": {"field": "v", "type": "quantitative"},
            "color": {"datum": "Estimated", "type": "nominal"}
          }
        }
      ]
    },
    {
      "width": 475,
      "height": 155,
      "title": {"text": "(b)", "subtitle": " ", "subtitlePadding": 2, "subtitleFontSize": 8},
      "data": {"name": "errB"},
      "mark": {"type": "line", "color": "#ff0000", "strokeWidth": 1.2, "interpolate": "monotone", "clip": true},
      "encoding": {
        "x": {"field": "t", "type": "quantitative", "scale": {"domain": [0.5, 2.5], "nice": false, "zero": false}, "axis": {"values": [0.5, 1, 1.5, 2, 2.5], "labelExpr": "'' + datum.value", "title": "Time(sec)"}},
        "y": {"field": "v", "type": "quantitative", "scale": {"domain": [-0.5, 0.5], "nice": false, "zero": false}, "axis": {"values": [-0.5, 0, 0.5], "labelExpr": "'' + datum.value", "title": "Error"}}
      }
    },
    {
      "width": 475,
      "height": 143,
      "layer": [
        {
          "data": {"name": "actC"},
          "mark": {"type": "line", "strokeWidth": 1.3, "clip": true},
          "encoding": {
            "x": {"field": "t", "type": "quantitative", "scale": {"domain": [0.5, 2.5], "nice": false, "zero": false}, "axis": {"values": [0.5, 1, 1.5, 2, 2.5], "labelExpr": "'' + datum.value", "title": "Time(sec)"}},
            "y": {"field": "v", "type": "quantitative", "scale": {"domain": [1, 6], "nice": false, "zero": false}, "axis": {"values": [2, 4, 6], "labelExpr": "'' + datum.value", "title": "Speed(rad/sec)"}},
            "color": {"datum": "Actual", "type": "nominal", "scale": {"domain": ["Actual", "Estimated"], "range": ["#4040ff", "#ff0000"]}, "legend": {"title": null, "symbolType": "M-4,0H4"}}
          }
        },
        {
          "data": {"name": "estC"},
          "mark": {"type": "line", "strokeWidth": 1.4, "clip": true},
          "encoding": {
            "x": {"field": "t", "type": "quantitative"},
            "y": {"field": "v", "type": "quantitative"},
            "color": {"datum": "Estimated", "type": "nominal"}
          }
        }
      ]
    },
    {
      "width": 475,
      "height": 155,
      "title": {"text": "(c)"},
      "data": {"name": "errC"},
      "mark": {"type": "line", "color": "#ff0000", "strokeWidth": 1.4, "clip": true},
      "encoding": {
        "x": {"field": "t", "type": "quantitative", "scale": {"domain": [0, 4], "nice": false, "zero": false}, "axis": {"values": [0, 1, 2, 3, 4], "labelExpr": "'' + datum.value", "title": "Time(sec)"}},
        "y": {"field": "v", "type": "quantitative", "scale": {"domain": [-2, 2], "nice": false, "zero": false}, "axis": {"values": [-2, 0, 2], "labelExpr": "'' + datum.value", "title": "Error"}}
      }
    }
  ],
  "resolve": {"scale": {"color": "independent"}, "legend": {"color": "independent"}},
  "config": {
    "view": {"stroke": "#000000", "strokeWidth": 1.5},
    "axis": {
      "labelFont": "Liberation Serif",
      "labelFontWeight": "bold",
      "labelFontSize": 20,
      "labelColor": "#000000",
      "labelOverlap": false,
      "labelFlush": false,
      "titleFont": "Liberation Serif",
      "titleFontWeight": "bold",
      "titleFontSize": 20,
      "titleColor": "#000000",
      "ticks": false,
      "domain": false,
      "grid": true,
      "gridColor": "#000000",
      "gridDash": [6, 4],
      "gridWidth": 1
    },
    "axisX": {"labelPadding": 4, "titlePadding": 2},
    "axisY": {"labelPadding": 6, "titlePadding": 10},
    "legend": {
      "orient": "top-right",
      "offset": 2,
      "padding": 8,
      "fillColor": "white",
      "labelFont": "Liberation Serif",
      "labelFontWeight": "bold",
      "labelFontSize": 20,
      "labelColor": "#000000",
      "labelOffset": 18,
      "symbolType": "M-4,0H4",
      "symbolSize": 121,
      "symbolOffset": 12,
      "symbolStrokeWidth": 1.5,
      "rowPadding": 7
    },
    "title": {
      "orient": "bottom",
      "anchor": "middle",
      "offset": 11,
      "dx": -12,
      "font": "Liberation Serif",
      "fontSize": 20,
      "fontWeight": "normal",
      "color": "#000000"
    }
  }
}
